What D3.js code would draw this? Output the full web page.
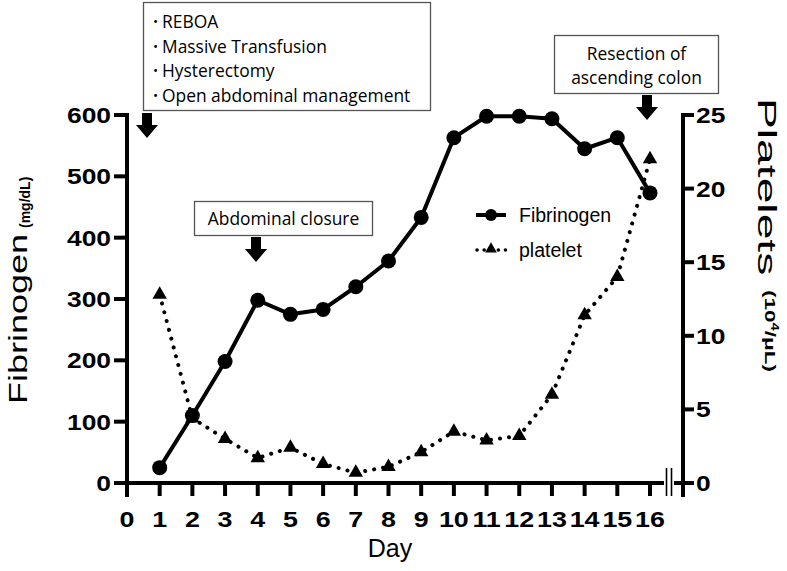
<!DOCTYPE html>
<html>
<head>
<meta charset="utf-8">
<script src="https://cdn.jsdelivr.net/npm/d3@7"></script>
<style>
  body { margin: 0; background: #fff; }
  text { font-family: "Liberation Sans", Arial, sans-serif; }
</style>
</head>
<body>
<div id="chart"></div>
<script>
var days = [1, 2, 3, 4, 5, 6, 7, 8, 9, 10, 11, 12, 13, 14, 15, 16];
var fibrinogen = [25, 110, 198, 298, 275, 283, 320, 362, 433, 563, 598, 598, 594, 545, 563, 473];
var platelets = [12.8, 4.4, 3.0, 1.7, 2.4, 1.3, 0.7, 1.1, 2.1, 3.5, 2.9, 3.2, 6.0, 11.4, 14.0, 22.0];
var xTicks = [0, 1, 2, 3, 4, 5, 6, 7, 8, 9, 10, 11, 12, 13, 14, 15, 16];
var fibTicks = [0, 100, 200, 300, 400, 500, 600];
var pltTicks = [0, 5, 10, 15, 20, 25];
var eventsList = ["REBOA", "Massive Transfusion", "Hysterectomy", "Open abdominal management"];

var W = 787, H = 571;
var svg = d3.select("#chart").append("svg")
    .attr("width", W).attr("height", H);

var x = d3.scaleLinear().domain([0, 16]).range([127, 650]);
var yL = d3.scaleLinear().domain([0, 600]).range([483, 115]);
var yR = d3.scaleLinear().domain([0, 25]).range([483, 115]);
var axisX0 = 127, axisX1 = 683;
var tickFont = "22px";

// x axis line with break
var g = svg.append("g");
g.append("line").attr("x1", axisX0 - 2).attr("x2", 664).attr("y1", 483).attr("y2", 483)
    .attr("stroke", "#000").attr("stroke-width", 4);
g.append("line").attr("x1", 674).attr("x2", axisX1).attr("y1", 483).attr("y2", 483)
    .attr("stroke", "#000").attr("stroke-width", 4);
[666.5, 671.5].forEach(function(bx) {
    g.append("line").attr("x1", bx).attr("x2", bx).attr("y1", 468).attr("y2", 496)
        .attr("stroke", "#000").attr("stroke-width", 1.6);
});

// x ticks
g.selectAll(".xt").data(xTicks).enter().append("line")
    .attr("x1", function(d) { return x(d); }).attr("x2", function(d) { return x(d); })
    .attr("y1", 483).attr("y2", 496)
    .attr("stroke", "#000").attr("stroke-width", 4);
g.selectAll(".xl").data(xTicks).enter().append("text")
    .attr("transform", function(d) { return "translate(" + x(d) + ",527) scale(1.22,1)"; })
    .attr("text-anchor", "middle")
    .style("font-size", tickFont).style("font-weight", "bold")
    .text(function(d) { return d; });

// left axis
g.append("line").attr("x1", axisX0).attr("x2", axisX0).attr("y1", 113).attr("y2", 497)
    .attr("stroke", "#000").attr("stroke-width", 4);
g.selectAll(".lt").data(fibTicks).enter().append("line")
    .attr("x1", axisX0 - 13).attr("x2", axisX0)
    .attr("y1", function(d) { return yL(d); }).attr("y2", function(d) { return yL(d); })
    .attr("stroke", "#000").attr("stroke-width", 4);
g.selectAll(".ll").data(fibTicks).enter().append("text")
    .attr("transform", function(d) { return "translate(" + (axisX0 - 16) + "," + yL(d) + ") scale(1.2,1)"; })
    .attr("dy", "0.36em").attr("text-anchor", "end")
    .style("font-size", tickFont).style("font-weight", "bold")
    .text(function(d) { return d; });

// right axis
g.append("line").attr("x1", axisX1).attr("x2", axisX1).attr("y1", 113).attr("y2", 497)
    .attr("stroke", "#000").attr("stroke-width", 4);
g.selectAll(".rt").data(pltTicks).enter().append("line")
    .attr("x1", axisX1).attr("x2", axisX1 + 11)
    .attr("y1", function(d) { return yR(d); }).attr("y2", function(d) { return yR(d); })
    .attr("stroke", "#000").attr("stroke-width", 4);
g.selectAll(".rl").data(pltTicks).enter().append("text")
    .attr("transform", function(d) { return "translate(" + (axisX1 + 13) + "," + yR(d) + ") scale(1.2,1)"; })
    .attr("dy", "0.36em").attr("text-anchor", "start")
    .style("font-size", tickFont).style("font-weight", "bold")
    .text(function(d) { return d; });

// axis titles (stretched along the reading direction like the original)
svg.append("text").attr("transform", "translate(27,404) rotate(-90) scale(1.44,1)")
    .attr("text-anchor", "start").style("font-size", "25px")
    .text("Fibrinogen");
svg.append("text").attr("transform", "translate(30,228) rotate(-90)")
    .attr("text-anchor", "start").style("font-size", "14px").style("font-weight", "bold")
    .text("(mg/dL)");

svg.append("text").attr("transform", "translate(758,98) rotate(90) scale(1.85,1)")
    .attr("text-anchor", "start").style("font-size", "25px")
    .text("Platelets");
svg.append("text").attr("transform", "translate(765,290) rotate(90) scale(1.5,1)")
    .attr("text-anchor", "start").style("font-size", "15px").style("font-weight", "bold")
    .call(function(t) {
        t.append("tspan").text("(10");
        t.append("tspan").style("font-size", "10px").attr("dy", "-6").text("4");
        t.append("tspan").attr("dy", "6").text("/\u03bcL)");
    });

svg.append("text").attr("x", 390).attr("y", 557)
    .attr("text-anchor", "middle").style("font-size", "25px").text("Day");

// platelet dotted line
var pltData = days.map(function(d, i) { return [d, platelets[i]]; });
var fibData = days.map(function(d, i) { return [d, fibrinogen[i]]; });

svg.append("path").datum(pltData)
    .attr("fill", "none").attr("stroke", "#000").attr("stroke-width", 4)
    .attr("stroke-linecap", "round").attr("stroke-dasharray", "0.1 9")
    .attr("d", d3.line().x(function(d) { return x(d[0]); }).y(function(d) { return yR(d[1]); }));

var tri = d3.symbol().type(d3.symbolTriangle).size(90);
svg.selectAll(".tri").data(pltData).enter().append("path")
    .attr("d", tri)
    .attr("transform", function(d) { return "translate(" + x(d[0]) + "," + yR(d[1]) + ")"; })
    .attr("fill", "#000");

// fibrinogen solid line
svg.append("path").datum(fibData)
    .attr("fill", "none").attr("stroke", "#000").attr("stroke-width", 4)
    .attr("stroke-linejoin", "round")
    .attr("d", d3.line().x(function(d) { return x(d[0]); }).y(function(d) { return yL(d[1]); }));
svg.selectAll(".dot").data(fibData).enter().append("circle")
    .attr("cx", function(d) { return x(d[0]); }).attr("cy", function(d) { return yL(d[1]); })
    .attr("r", 7.5).attr("fill", "#000");

// legend
var lg = svg.append("g");
lg.append("line").attr("x1", 476).attr("x2", 506).attr("y1", 215).attr("y2", 215)
    .attr("stroke", "#000").attr("stroke-width", 4);
lg.append("circle").attr("cx", 491).attr("cy", 215).attr("r", 6).attr("fill", "#000");
lg.append("text").attr("x", 519).attr("y", 215).attr("dy", "0.35em")
    .style("font-size", "19.5px").text("Fibrinogen");
lg.append("line").attr("x1", 477).attr("x2", 506).attr("y1", 250).attr("y2", 250)
    .attr("stroke", "#000").attr("stroke-width", 3.5).attr("stroke-linecap", "round")
    .attr("stroke-dasharray", "0.1 7");
lg.append("path").attr("d", d3.symbol().type(d3.symbolTriangle).size(60))
    .attr("transform", "translate(491,249)").attr("fill", "#000");
lg.append("text").attr("x", 519).attr("y", 250).attr("dy", "0.35em")
    .style("font-size", "19.5px").text("platelet");

// annotation boxes
function arrow(cx, top) {
    svg.append("path")
        .attr("d", "M" + (cx - 5) + "," + top + "H" + (cx + 5) + "V" + (top + 12) +
            "H" + (cx + 11) + "L" + cx + "," + (top + 25) + "L" + (cx - 11) + "," + (top + 12) +
            "H" + (cx - 5) + "Z")
        .attr("fill", "#000");
}
var annoFont = "'Open Sans', 'Noto Sans', sans-serif";
var annoSize = "17.4px";

svg.append("rect").attr("x", 143.5).attr("y", 2.5).attr("width", 287).attr("height", 108)
    .attr("fill", "#fff").attr("stroke", "#555").attr("stroke-width", 1.3);
svg.selectAll(".bullet").data(eventsList).enter().append("text")
    .attr("x", 155.5).attr("y", function(d, i) { return 22 + i * 24.7; })
    .attr("dy", "0.35em").attr("text-anchor", "middle")
    .style("font-family", "'Noto Sans CJK JP'").style("font-size", annoSize)
    .text("\uff65");
svg.selectAll(".ev").data(eventsList).enter().append("text")
    .attr("x", 162).attr("y", function(d, i) { return 22 + i * 24.7; })
    .attr("dy", "0.35em").style("font-family", annoFont).style("font-size", annoSize)
    .text(function(d) { return d; });
arrow(147, 113);

svg.append("rect").attr("x", 194.5).attr("y", 201.5).attr("width", 178).attr("height", 34)
    .attr("fill", "#fff").attr("stroke", "#555").attr("stroke-width", 1.3);
svg.append("text").attr("x", 283.5).attr("y", 219).attr("dy", "0.35em")
    .attr("text-anchor", "middle").style("font-family", annoFont).style("font-size", annoSize)
    .text("Abdominal closure");
arrow(256, 237);

svg.append("rect").attr("x", 554.5).attr("y", 35.5).attr("width", 164).attr("height", 58)
    .attr("fill", "#fff").attr("stroke", "#555").attr("stroke-width", 1.3);
svg.append("text").attr("x", 636.5).attr("y", 54).attr("dy", "0.35em")
    .attr("text-anchor", "middle").style("font-family", annoFont).style("font-size", annoSize)
    .text("Resection of");
svg.append("text").attr("x", 636.5).attr("y", 78).attr("dy", "0.35em")
    .attr("text-anchor", "middle").style("font-family", annoFont).style("font-size", annoSize)
    .text("ascending colon");
arrow(647, 95);
</script>
</body>
</html>
